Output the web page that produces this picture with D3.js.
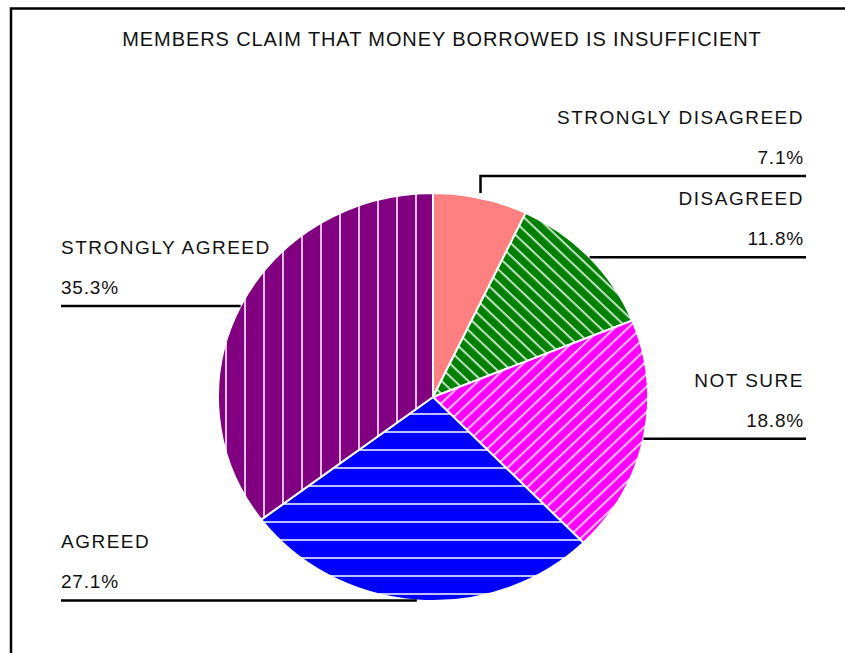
<!DOCTYPE html>
<html>
<head>
<meta charset="utf-8">
<title>Members claim that money borrowed is insufficient</title>
<style>
body { margin: 0; background: #fff; }
svg text { font-family: "Liberation Sans", Arial, sans-serif; fill: #111; }
</style>
<script src="https://d3js.org/d3.v7.min.js"></script>
</head>
<body>
<svg id="chart" width="845" height="653"></svg>
<script>
// chart data
const title = "MEMBERS CLAIM THAT MONEY BORROWED IS INSUFFICIENT";
const categories = ["STRONGLY DISAGREED", "DISAGREED", "NOT SURE", "AGREED", "STRONGLY AGREED"];
const values = [7.1, 11.8, 18.8, 27.1, 35.3];
const colours = ["#FF8080", "#008000", "#FF00FF", "#0000FF", "#800080"];
const hatches = ["none", "diagDown", "diagUp", "horiz", "vert"];

const width = 845, height = 653;
const cx = 433, cy = 397;
const ry = 204, rx = 215;
const kx = rx / ry;

const svg = d3.select("#chart");

// frame (only left and top edges show)
svg.append("path")
  .attr("d", "M11," + height + "V8.5H" + width)
  .attr("fill", "none")
  .attr("stroke", "#000")
  .attr("stroke-width", 2.5);

// title
svg.append("text")
  .attr("x", 442)
  .attr("y", 46)
  .attr("text-anchor", "middle")
  .style("font-size", "20px")
  .style("letter-spacing", "0.9px")
  .text(title);

// hatch patterns, in the user space of the stretched pie group
const defs = svg.append("defs");

function stripePattern(id, size, angle, x0, y0, vertical) {
  const p = defs.append("pattern")
    .attr("id", id)
    .attr("patternUnits", "userSpaceOnUse")
    .attr("x", x0).attr("y", y0)
    .attr("width", vertical ? size : 400)
    .attr("height", vertical ? 400 : size);
  if (angle) p.attr("patternTransform", "rotate(" + angle + ")");
  if (vertical) {
    p.append("rect").attr("x", 0).attr("y", 0)
      .attr("width", 2 / kx).attr("height", 400)
      .attr("fill", "#fff").attr("fill-opacity", 0.75);
  } else {
    p.append("rect").attr("x", 0).attr("y", 0)
      .attr("width", 400).attr("height", 2)
      .attr("fill", "#fff").attr("fill-opacity", 0.75);
  }
}
stripePattern("vert", 19 / kx, 0, (244 - cx) / kx, 0, true);
stripePattern("horiz", 18, 0, 0, 431 - cy, false);
stripePattern("diagUp", 9, -45, 0, 0, false);
stripePattern("diagDown", 9, 45, 0, 0, false);

// pie
const pie = d3.pie().sort(null).value(d => d);
const arcs = pie(values);
const arc = d3.arc().innerRadius(0).outerRadius(ry);

const g = svg.append("g")
  .attr("transform", "translate(" + cx + "," + cy + ") scale(" + kx + ",1)");

const slices = g.selectAll("g.slice").data(arcs).enter()
  .append("g").attr("class", "slice");

slices.append("path")
  .attr("d", arc)
  .attr("fill", (d, i) => colours[i]);

slices.filter((d, i) => hatches[i] !== "none")
  .append("path")
  .attr("d", arc)
  .attr("fill", d => "url(#" + hatches[d.index] + ")");

slices.append("path")
  .attr("d", arc)
  .attr("fill", "none")
  .attr("stroke", "#fff")
  .attr("stroke-width", 2)
  .attr("vector-effect", "non-scaling-stroke");

// leader lines and labels
const rightX = 806, leftX = 61;
const labels = svg.append("g");

arcs.forEach((d, i) => {
  const a = (d.startAngle + d.endAngle) / 2;
  const px = cx + rx * Math.sin(a);
  const py = cy - ry * Math.cos(a);
  const right = a < Math.PI;
  const endX = right ? rightX : leftX;
  let lineY = py;
  let path;
  if (Math.cos(a) > 0.95) {
    // slice near the top: go up first, then across
    lineY = cy - ry - 17;
    path = "M" + px + "," + (py - 5) + "V" + lineY + "H" + endX;
  } else {
    path = "M" + px + "," + py + "H" + endX;
  }
  labels.append("path")
    .attr("d", path)
    .attr("fill", "none")
    .attr("stroke", "#000")
    .attr("stroke-width", 2.5);

  const tx = right ? rightX - 2 : leftX;
  const anchor = right ? "end" : "start";
  labels.append("text")
    .attr("x", tx).attr("y", lineY - 52)
    .attr("text-anchor", anchor)
    .style("font-size", "19px")
    .style("letter-spacing", "1.5px")
    .text(categories[i]);
  labels.append("text")
    .attr("x", tx).attr("y", lineY - 12)
    .attr("text-anchor", anchor)
    .style("font-size", "19px")
    .style("letter-spacing", "0.8px")
    .text(values[i].toFixed(1) + "%");
});
</script>
</body>
</html>
